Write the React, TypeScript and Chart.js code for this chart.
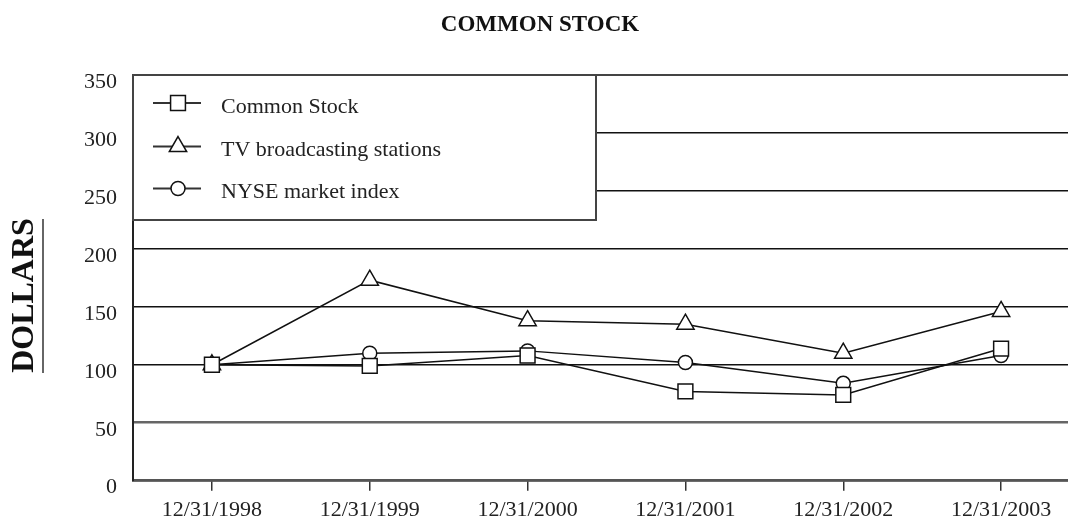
import React, { useEffect, useRef } from "react";
import { Chart, registerables } from "chart.js";

Chart.register(...registerables);

const categories = ["12/31/1998", "12/31/1999", "12/31/2000", "12/31/2001", "12/31/2002", "12/31/2003"];
const commonStock = [100, 99, 108, 77, 74, 114];
const tvStations = [100, 173, 138, 135, 110, 146];
const nyseIndex = [100, 110, 112, 102, 84, 108];
const seriesLabels = ["Common Stock", "TV broadcasting stations", "NYSE market index"];
const seriesStyles = ["rect", "triangle", "circle"];
const seriesRadius = [10.5, 10, 7];
const yMin = 0;
const yMax = 350;
const yStep = 50;
const chartTitle = "COMMON STOCK";
const yAxisTitle = "DOLLARS";

const SERIF = "'Liberation Serif', 'Times New Roman', serif";

function drawMarker(ctx: CanvasRenderingContext2D, style: string, x: number, y: number, r: number) {
  ctx.save();
  ctx.fillStyle = "#fff";
  ctx.strokeStyle = "#111";
  ctx.lineWidth = 1.5;
  ctx.beginPath();
  if (style === "rect") {
    const s = Math.SQRT1_2 * r;
    ctx.rect(x - s, y - s, 2 * s, 2 * s);
  } else if (style === "triangle") {
    let rad = 0;
    ctx.moveTo(x + Math.sin(rad) * r, y - Math.cos(rad) * r);
    rad += (2 * Math.PI) / 3;
    ctx.lineTo(x + Math.sin(rad) * r, y - Math.cos(rad) * r);
    rad += (2 * Math.PI) / 3;
    ctx.lineTo(x + Math.sin(rad) * r, y - Math.cos(rad) * r);
    ctx.closePath();
  } else {
    ctx.arc(x, y, r, 0, Math.PI * 2);
  }
  ctx.fill();
  ctx.stroke();
  ctx.restore();
}

const decorPlugin = {
  id: "decor",
  beforeDatasetsDraw(chart: any) {
    const { ctx, chartArea } = chart;
    const left = chartArea.left;
    const top = chartArea.top;
    const w = 463;
    const h = 145;
    ctx.save();
    ctx.fillStyle = "#fff";
    ctx.fillRect(left, top, w, h);
    ctx.strokeStyle = "#444";
    ctx.lineWidth = 2;
    ctx.strokeRect(left, top, w, h);
    const rows = [28, 71.5, 113.5];
    seriesLabels.forEach((label, i) => {
      const y = top + rows[i];
      ctx.strokeStyle = "#333";
      ctx.lineWidth = 2;
      ctx.beginPath();
      ctx.moveTo(left + 20, y);
      ctx.lineTo(left + 68, y);
      ctx.stroke();
      drawMarker(ctx, seriesStyles[i], left + 45, y, seriesRadius[i]);
      ctx.fillStyle = "#222";
      ctx.font = `22px ${SERIF}`;
      ctx.textAlign = "left";
      ctx.textBaseline = "alphabetic";
      ctx.fillText(label, left + 88, y + 9.5);
    });
    ctx.restore();
  },
  afterDraw(chart: any) {
    const { ctx } = chart;
    ctx.save();
    ctx.fillStyle = "#111";
    ctx.font = `bold 23px ${SERIF}`;
    ctx.textAlign = "center";
    ctx.textBaseline = "alphabetic";
    ctx.fillText(chartTitle, 540, 31);

    ctx.translate(25, 295.5);
    ctx.rotate(-Math.PI / 2);
    ctx.font = `bold 32px ${SERIF}`;
    ctx.textAlign = "center";
    ctx.textBaseline = "middle";
    ctx.fillText(yAxisTitle, 0, 0);
    ctx.restore();

    ctx.save();
    ctx.strokeStyle = "#333";
    ctx.lineWidth = 1.5;
    ctx.beginPath();
    ctx.moveTo(43, 219);
    ctx.lineTo(43, 373);
    ctx.stroke();
    ctx.restore();
  },
};

export default function App() {
  const canvasRef = useRef<HTMLCanvasElement | null>(null);

  useEffect(() => {
    if (!canvasRef.current) return;
    const seriesData = [commonStock, tvStations, nyseIndex];
    const chart = new Chart(canvasRef.current, {
      type: "line",
      data: {
        labels: categories,
        datasets: seriesLabels.map((label, i) => ({
          label,
          data: seriesData[i],
          borderColor: "#111",
          borderWidth: 1.5,
          tension: 0,
          pointStyle: seriesStyles[i] as any,
          pointRadius: seriesRadius[i],
          pointHoverRadius: seriesRadius[i],
          pointBackgroundColor: "#fff",
          pointBorderColor: "#111",
          pointBorderWidth: 1.5,
        })),
      },
      options: {
        animation: false,
        responsive: true,
        maintainAspectRatio: false,
        layout: { autoPadding: false, padding: { top: 75, left: 0, right: 0, bottom: 0 } },
        plugins: {
          legend: { display: false },
          title: { display: false },
          tooltip: { enabled: false },
        },
        scales: {
          x: {
            type: "category",
            offset: true,
            grid: {
              drawOnChartArea: false,
              drawTicks: true,
              tickLength: 10,
              color: "#333",
              lineWidth: 1.5,
              offset: false,
            },
            border: { display: true, color: "#555", width: 2.5 },
            ticks: {
              font: { family: SERIF, size: 22 },
              color: "#222",
              padding: 6,
              maxRotation: 0,
              autoSkip: false,
            },
            afterFit(scale: any) {
              scale.height = 39.3;
            },
          },
          y: {
            min: yMin,
            max: yMax,
            grid: {
              drawTicks: false,
              color: (c: any) => (c.tick && c.tick.value === 50 ? "#666" : c.tick && c.tick.value === 350 ? "#444" : "#111"),
              lineWidth: (c: any) => (c.tick && c.tick.value === 50 ? 2.5 : c.tick && c.tick.value === 350 ? 2 : 1.5),
            },
            border: { display: true, color: "#222", width: 2 },
            ticks: {
              stepSize: yStep,
              font: { family: SERIF, size: 22 },
              color: "#222",
              padding: 16,
              labelOffset: 7,
            },
            afterFit(scale: any) {
              scale.width = 133;
            },
          },
        },
      },
      plugins: [decorPlugin],
    });
    return () => chart.destroy();
  }, []);

  return (
    <div style={{ position: "fixed", left: 0, top: 0, width: 1068, height: 520, overflow: "hidden", background: "#fff" }}>
      <div style={{ position: "relative", width: 1080, height: 520 }}>
        <canvas ref={canvasRef} />
      </div>
    </div>
  );
}
